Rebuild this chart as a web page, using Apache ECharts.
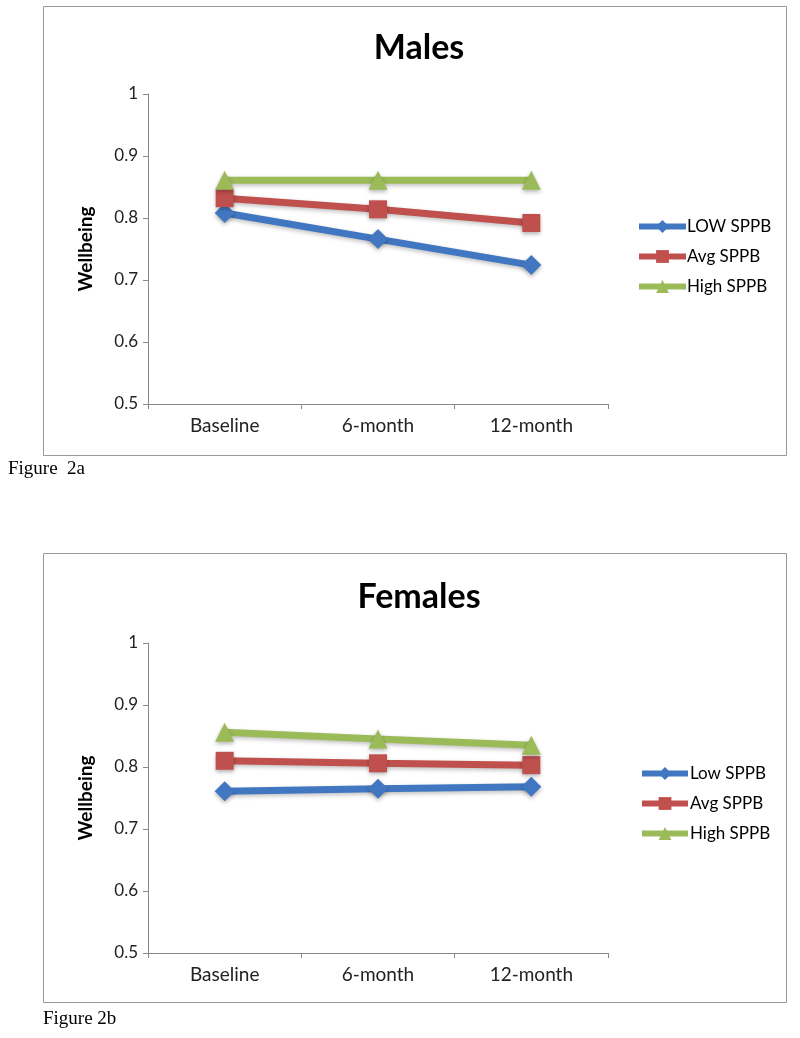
<!DOCTYPE html>
<html><head><meta charset="utf-8">
<script src="https://cdn.jsdelivr.net/npm/echarts@6/dist/echarts.min.js"></script>
<style>html,body{margin:0;padding:0;background:#fff}#c{width:800px;height:1038px}</style>
</head><body><div id="c"></div>
<script>
const categories = ['Baseline', '6-month', '12-month'];
const yTicks = [0.5, 0.6, 0.7, 0.8, 0.9, 1];
const malesLow = [0.808, 0.766, 0.724];
const malesAvg = [0.832, 0.814, 0.792];
const malesHigh = [0.861, 0.861, 0.861];
const femalesLow = [0.761, 0.765, 0.768];
const femalesAvg = [0.810, 0.806, 0.803];
const femalesHigh = [0.856, 0.845, 0.835];
const malesNames = ['LOW SPPB', 'Avg SPPB', 'High SPPB'];
const femalesNames = ['Low SPPB', 'Avg SPPB', 'High SPPB'];

const colors = ['#4177c1', '#c0504d', '#9bbb59'];
const symbols = ['diamond', 'rect', 'triangle'];
const symSizes = [20, 18, 19];
const font = 'Lato, "Open Sans", sans-serif';

function mkSeries(names, datas, gi) {
  return datas.map((d, i) => ({
    name: names[i] + (gi ? ' ' : ''),
    type: 'line',
    xAxisIndex: gi, yAxisIndex: gi,
    data: d,
    symbol: symbols[i],
    symbolSize: symSizes[i],
    color: colors[i],
    lineStyle: { width: 7, color: colors[i], shadowColor: 'rgba(0,0,0,0.25)', shadowBlur: 4, shadowOffsetY: 2 },
    itemStyle: { color: colors[i], shadowColor: 'rgba(0,0,0,0.3)', shadowBlur: 4, shadowOffsetY: 2 },
    z: 3 + i
  }));
}

function xAx(gi) {
  return {
    type: 'category', gridIndex: gi, data: categories, boundaryGap: true,
    axisLine: { lineStyle: { color: '#888', width: 1 } },
    axisTick: { show: true, inside: false, length: 5, alignWithLabel: false, lineStyle: { color: '#888' } },
    axisLabel: { color: '#222', fontSize: 19, fontFamily: font, margin: 12 }
  };
}
function yAx(gi) {
  return {
    type: 'value', gridIndex: gi, min: yTicks[0], max: yTicks[yTicks.length - 1], interval: 0.1,
    name: 'Wellbeing', nameLocation: 'middle', nameRotate: 90, nameGap: 53,
    nameTextStyle: { color: '#000', fontSize: 19, fontWeight: 'bold', fontFamily: font },
    axisLine: { show: true, lineStyle: { color: '#888', width: 1 } },
    axisTick: { show: true, length: 5, lineStyle: { color: '#888' } },
    splitLine: { show: false },
    axisLabel: { color: '#222', fontSize: 17, fontFamily: font, margin: 10,
      formatter: v => (Math.round(v * 10) / 10).toString() }
  };
}

function legendOpt(data, left, top, w, pad) {
  return {
    data: data, left: left, top: top, padding: 0,
    orient: 'vertical', itemWidth: w, itemHeight: 16, itemGap: 13,
    lineStyle: { width: 6 },
    textStyle: { fontSize: 17, fontFamily: font, color: '#000', padding: [0, 0, 0, pad] }
  };
}

const chart = echarts.init(document.getElementById('c'), null, { renderer: 'canvas' });
chart.setOption({
  animation: false,
  backgroundColor: '#fff',
  graphic: [
    { type: 'rect', shape: { x: 43.5, y: 6.5, width: 743, height: 449 }, style: { fill: 'none', stroke: '#999', lineWidth: 1 }, z: 0 },
    { type: 'rect', shape: { x: 43.5, y: 553.5, width: 743, height: 449 }, style: { fill: 'none', stroke: '#999', lineWidth: 1 }, z: 0 },
    { type: 'text', left: 8, top: 460, style: { text: 'Figure  2a', font: '19px "Liberation Serif", serif', fill: '#000' } },
    { type: 'text', left: 43, top: 1010, style: { text: 'Figure 2b', font: '19px "Liberation Serif", serif', fill: '#000' } }
  ],
  title: [
    { text: 'Males', left: 414, textAlign: 'center', top: 26, textStyle: { fontSize: 34, fontWeight: 'bold', fontFamily: font, color: '#000' } },
    { text: 'Females', left: 414, textAlign: 'center', top: 575, textStyle: { fontSize: 34, fontWeight: 'bold', fontFamily: font, color: '#000' } }
  ],
  legend: [
    legendOpt(malesNames, 636, 218, 47, -4),
    legendOpt(femalesNames.map(n => n + ' '), 639, 765, 46, -3)
  ],
  grid: [
    { left: 148, top: 94, width: 460, height: 310 },
    { left: 148, top: 643, width: 460, height: 310 }
  ],
  xAxis: [xAx(0), xAx(1)],
  yAxis: [yAx(0), yAx(1)],
  series: [
    ...mkSeries(malesNames, [malesLow, malesAvg, malesHigh], 0),
    ...mkSeries(femalesNames, [femalesLow, femalesAvg, femalesHigh], 1)
  ]
});
</script></body></html>
